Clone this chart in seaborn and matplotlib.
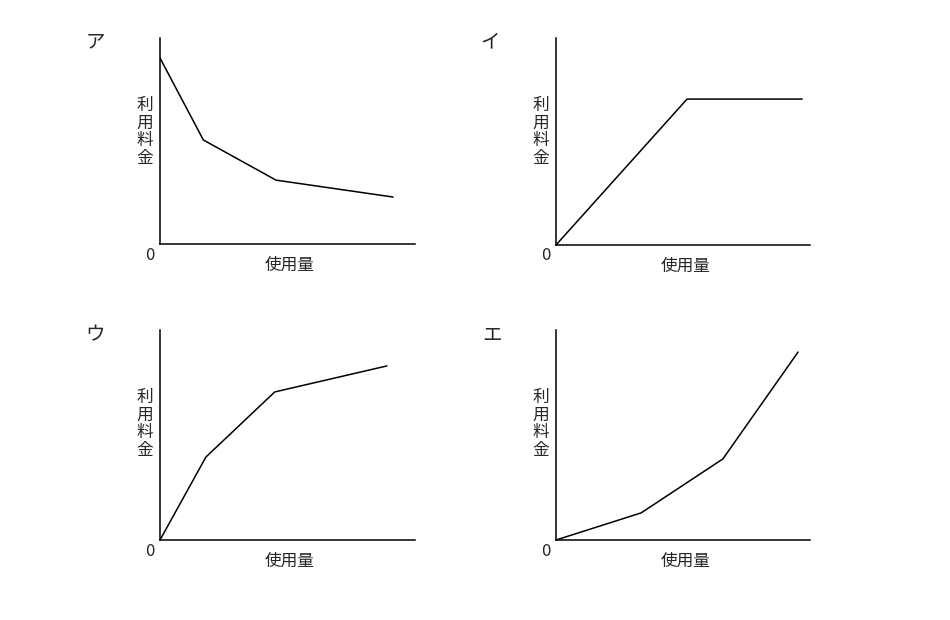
import matplotlib
matplotlib.use("Agg")
import matplotlib.pyplot as plt
import seaborn as sns
import pandas as pd

sns.set_style("white")
plt.rcParams['font.family'] = ['Noto Sans CJK JP', 'DejaVu Sans']

panel_labels = ["ア", "イ", "ウ", "エ"]
x_a = [0, 17, 45.5, 91.4]; y_a = [90.3, 50.5, 31, 22.8]
x_i = [0, 51.6, 96.9]; y_i = [0, 70.5, 70.5]
x_u = [0, 18, 45, 89]; y_u = [0, 39.5, 70.5, 82.9]
x_e = [0, 33.5, 65.7, 95.3]; y_e = [0, 12.9, 38.6, 89.5]
xlabel = "使用量"
ylabel = "利用料金"

W, H = 950, 620
fig = plt.figure(figsize=(9.5, 6.2), dpi=100)
# (left, top, right, bottom) in pixels
boxes = [(160, 38, 415, 244), (556, 38, 810, 245), (160, 330, 415, 540), (556, 330, 810, 540)]
series = [(x_a, y_a), (x_i, y_i), (x_u, y_u), (x_e, y_e)]
letter_pos = [(95, 42), (490, 42), (95, 335), (492, 335)]

for (l, t, r, b), (xs, ys), lab, (lx, ly) in zip(boxes, series, panel_labels, letter_pos):
    ax = fig.add_axes([l / W, (H - b) / H, (r - l) / W, (b - t) / H])
    df = pd.DataFrame({"x": xs, "y": ys})
    sns.lineplot(data=df, x="x", y="y", ax=ax, color="black", linewidth=1.1)
    ax.set_xlim(0, 100); ax.set_ylim(0, 100)
    ax.set_xticks([]); ax.set_yticks([])
    ax.set_xlabel(""); ax.set_ylabel("")
    for s in ["top", "right"]:
        ax.spines[s].set_visible(False)
    for s in ["left", "bottom"]:
        ax.spines[s].set_color("black"); ax.spines[s].set_linewidth(1.1)
    fig.text(lx / W, 1 - ly / H, lab, fontsize=14, ha="center", va="center")
    fig.text((l - 10) / W, 1 - (b + 11) / H, "0", fontsize=12, ha="center", va="center")
    fig.text((l + 130) / W, 1 - (b + 21) / H, xlabel, fontsize=12, ha="center", va="center")
    for k, ch in enumerate(ylabel):
        fig.text((l - 15) / W, 1 - (t + 67 + k * 18) / H, ch, fontsize=12, ha="center", va="center")

fig.savefig("out.png", dpi=100, facecolor="white")
